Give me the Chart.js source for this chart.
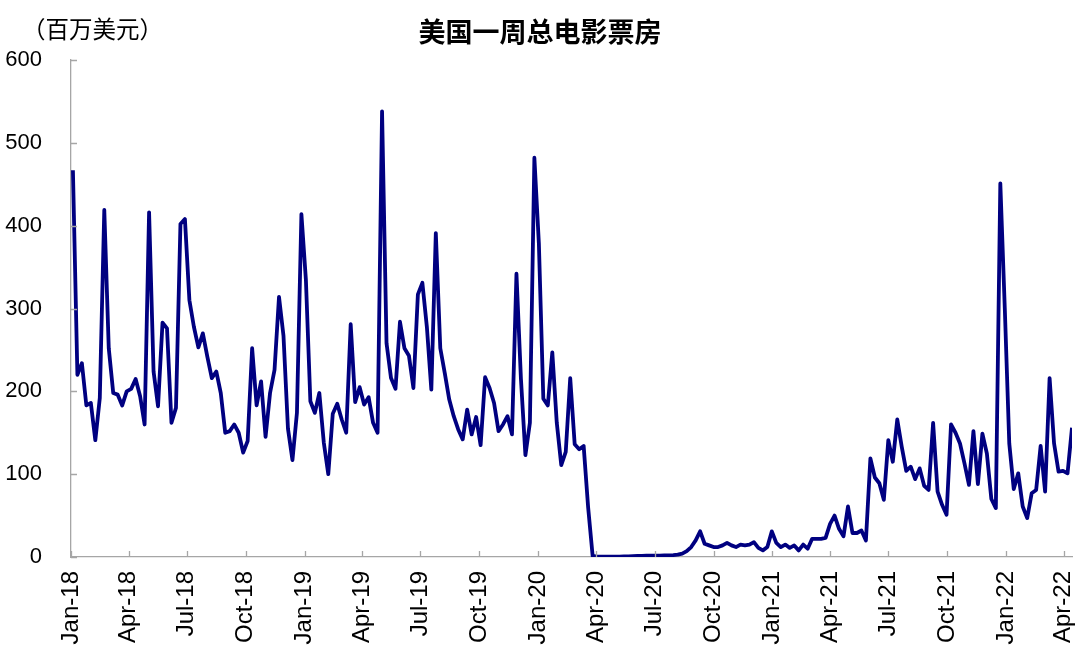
<!DOCTYPE html>
<html>
<head>
<meta charset="utf-8">
<script src="https://cdn.jsdelivr.net/npm/chart.js@4/dist/chart.umd.min.js"></script>
<style>
    body { margin: 0; background: #fff; }
    .wrap { position: relative; width: 1080px; height: 662px; }
    .title { position: absolute; left: 0; width: 1080px; top: 14px; text-align: center;
        font: bold 27px "Noto Sans CJK SC", sans-serif; line-height: 34px; color: #000; }
    .unit { position: absolute; left: 22px; top: 11px;
        font: 23.5px "Noto Sans CJK SC", sans-serif; line-height: 34px; color: #000; }
</style>
</head>
<body>
<div class="wrap">
    <canvas id="box" width="1080" height="662"></canvas>
    <div class="title">美国一周总电影票房</div>
    <div class="unit">（百万美元）</div>
</div>
<script>
// weekly totals, week ending Thursday, first week ends 2018-01-04
let firstWeek = '2018-01-04';
let boxOffice = [
    467, 220, 234, 183, 186, 141, 192, 419, 252, 198, 196, 183, 200, 203, 215, 194, 160, 416, 224, 182,
    283, 276, 162, 180, 402, 408, 310, 278, 253, 270, 242, 216, 224, 198, 150, 152, 160, 150, 126, 140,
    252, 183, 212, 145, 198, 226, 314, 267, 155, 117, 174, 414, 335, 188, 174, 198, 138, 100, 173, 185,
    166, 150, 281, 187, 205, 184, 193, 162, 150, 538, 258, 216, 203, 284, 252, 243, 204, 317, 331, 278,
    202, 391, 252, 222, 190, 170, 154, 142, 178, 148, 169, 135, 217, 204, 186, 152, 160, 170, 148, 342,
    215, 123, 162, 482, 379, 191, 183, 247, 162, 111, 127, 216, 136, 130, 134, 60, 1.5, 0.5, 0.4, 0.3,
    0.3, 0.4, 0.5, 0.6, 0.8, 1.0, 1.2, 1.3, 1.5, 1.6, 1.5, 1.6, 1.8, 2.0, 2.3, 2.8, 4, 7, 12, 20,
    31, 16, 14, 12, 12, 14, 17, 14, 12, 15, 14, 15, 18, 11, 8, 12, 31, 17, 12, 15,
    11, 14, 8, 15, 10, 22, 22, 22, 23, 40, 50, 34, 25, 61, 29, 29, 32, 20, 119, 96,
    89, 69, 141, 115, 166, 133, 104, 109, 94, 107, 86, 81, 162, 79, 63, 51, 160, 150, 137, 113,
    87, 152, 88, 149, 125, 70, 59, 451, 300, 137, 82, 101, 61, 47, 77, 81, 134, 79, 216, 137,
    103, 104, 101, 156
];
let xTickLabels = ['Jan-18', 'Apr-18', 'Jul-18', 'Oct-18', 'Jan-19', 'Apr-19', 'Jul-19', 'Oct-19', 'Jan-20',
    'Apr-20', 'Jul-20', 'Oct-20', 'Jan-21', 'Apr-21', 'Jul-21', 'Oct-21', 'Jan-22', 'Apr-22'];
let yTicks = [0, 100, 200, 300, 400, 500, 600];

const DAY = 86400000;
const origin = Date.UTC(2018, 0, 1);
const monthIdx = { Jan: 0, Apr: 3, Jul: 6, Oct: 9 };

function labelToDay(lbl) {
    let m = lbl.slice(0, 3), y = 2000 + parseInt(lbl.slice(4));
    return (Date.UTC(y, monthIdx[m], 1) - origin) / DAY;
}

let start = (Date.parse(firstWeek) - origin) / DAY;
let points = boxOffice.map((v, i) => ({ x: start + 7 * i, y: v }));
let tickDays = xTickLabels.map(labelToDay);

// tick marks pointing into the plot, like the original
const innerTicks = {
    id: 'innerTicks',
    afterDraw(chart) {
        let c = chart.ctx, xs = chart.scales.x, ys = chart.scales.y;
        c.save();
        c.strokeStyle = '#a6a6a6';
        c.lineWidth = 1.3;
        c.beginPath();
        xs.ticks.forEach(t => {
            let px = Math.round(xs.getPixelForValue(t.value)) + 0.5;
            c.moveTo(px, ys.bottom);
            c.lineTo(px, ys.bottom - 6);
        });
        ys.ticks.forEach(t => {
            let py = Math.round(ys.getPixelForValue(t.value)) + 0.5;
            c.moveTo(xs.left, py);
            c.lineTo(xs.left + 6, py);
        });
        c.stroke();
        c.restore();
    }
};

new Chart(document.getElementById('box'), {
    type: 'line',
    data: {
        datasets: [{
            data: points,
            borderColor: '#000080',
            borderWidth: 3.8,
            pointRadius: 0,
            tension: 0,
            fill: false,
            borderJoinStyle: 'round'
        }]
    },
    options: {
        responsive: false,
        animation: false,
        layout: { padding: { top: 60, right: 8, left: 0, bottom: 0 } },
        plugins: { legend: { display: false }, tooltip: { enabled: false } },
        scales: {
            x: {
                type: 'linear',
                min: 0,
                max: points[points.length - 1].x,
                afterBuildTicks: axis => { axis.ticks = tickDays.map(v => ({ value: v })); },
                afterFit: axis => {
                    axis.height = 105;
                    axis.paddingLeft = 0;
                    axis.paddingRight = 0;
                },
                grid: { display: false, drawTicks: false },
                border: { display: true, color: '#a6a6a6', width: 1.3 },
                ticks: {
                    autoSkip: false,
                    minRotation: 90,
                    maxRotation: 90,
                    padding: 14,
                    color: '#000',
                    font: { family: 'Liberation Sans, Arial, sans-serif', size: 24 },
                    callback: v => xTickLabels[tickDays.indexOf(v)]
                }
            },
            y: {
                min: 0,
                max: 600,
                afterBuildTicks: axis => { axis.ticks = yTicks.map(v => ({ value: v })); },
                afterFit: axis => { axis.width = 71; },
                grid: { display: false, drawTicks: false },
                border: { display: true, color: '#a6a6a6', width: 1.3 },
                ticks: {
                    padding: 29,
                    color: '#000',
                    font: { family: 'Liberation Sans, Arial, sans-serif', size: 22 }
                }
            }
        }
    },
    plugins: [innerTicks]
});
</script>
</body>
</html>
